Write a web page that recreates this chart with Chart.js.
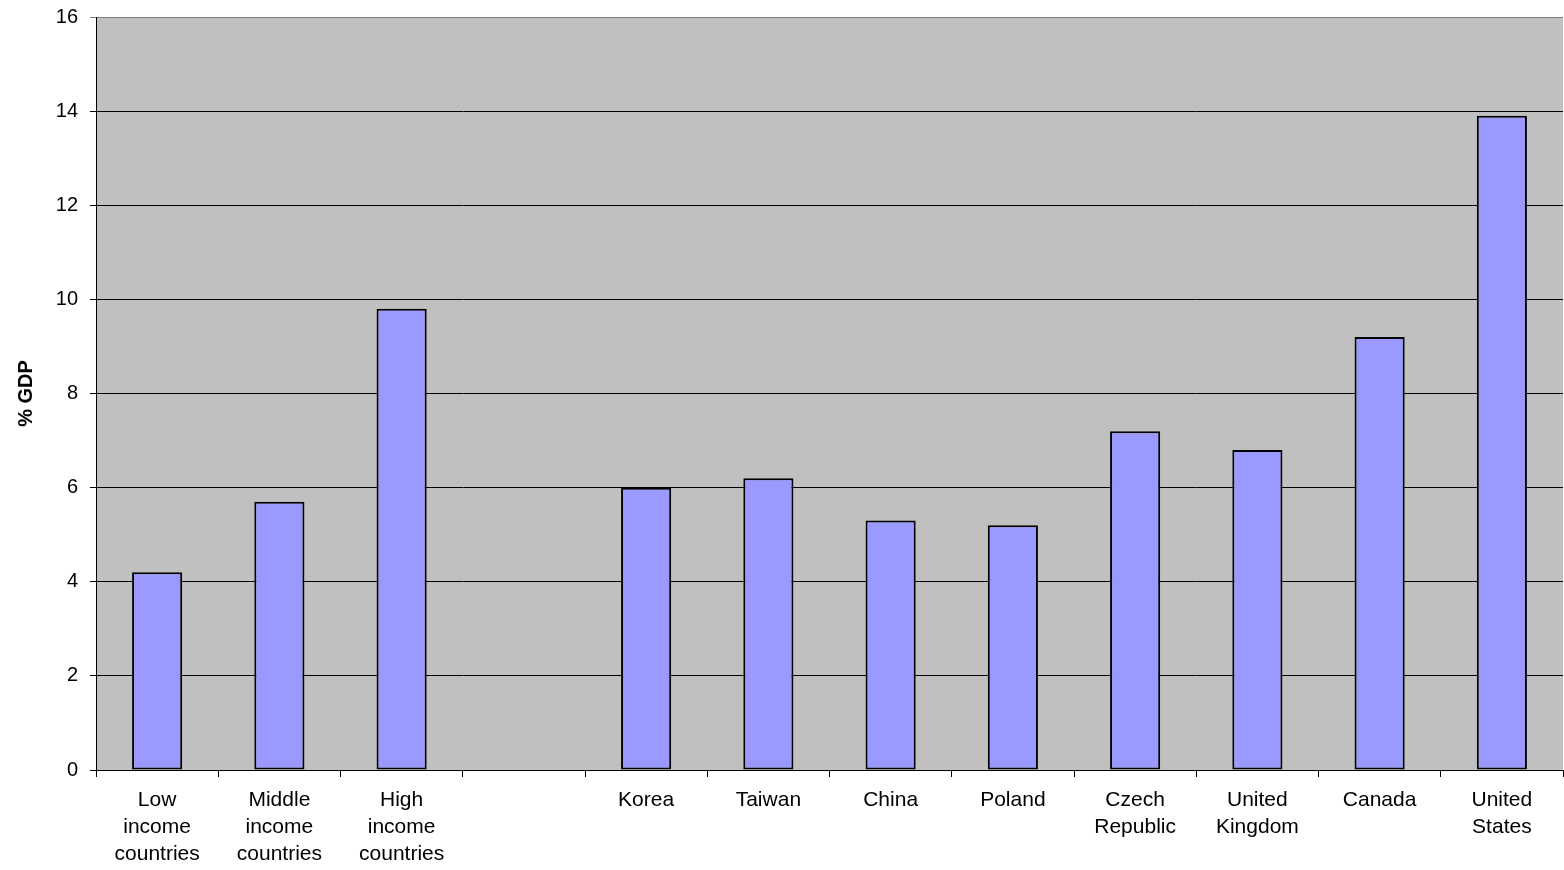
<!DOCTYPE html>
<html>
<head>
<meta charset="utf-8">
<script src="https://cdn.jsdelivr.net/npm/chart.js@4/dist/chart.umd.min.js"></script>
<style>
  html, body { margin: 0; padding: 0; background: #fff; }
  #wrap { width: 1564px; height: 870px; }
</style>
</head>
<body>
<div id="wrap"><canvas id="gdpChart" width="1564" height="870"></canvas></div>
<script>
const categories = [
  ["Low", "income", "countries"],
  ["Middle", "income", "countries"],
  ["High", "income", "countries"],
  "",
  "Korea",
  "Taiwan",
  "China",
  "Poland",
  ["Czech", "Republic"],
  ["United", "Kingdom"],
  "Canada",
  ["United", "States"],
];
const spending = [4.2, 5.7, 9.8, null, 6.0, 6.2, 5.3, 5.2, 7.2, 6.8, 9.2, 13.9];
const yTicks = [0, 2, 4, 6, 8, 10, 12, 14, 16];

const plotBackground = {
  id: "plotBackground",
  beforeDraw(chart) {
    const { ctx, chartArea } = chart;
    ctx.save();
    ctx.fillStyle = "#c0c0c0";
    ctx.fillRect(chartArea.left, chartArea.top, chartArea.right - chartArea.left, chartArea.bottom - chartArea.top);
    ctx.restore();
  },
};

const ctx = document.getElementById("gdpChart");

new Chart(ctx, {
  type: "bar",
  data: {
    labels: categories,
    datasets: [
      {
        data: spending,
        backgroundColor: "#9999ff",
        borderColor: "#000000",
        borderWidth: 2,
        borderSkipped: false,
        barPercentage: 0.41,
        categoryPercentage: 1,
      },
    ],
  },
  options: {
    responsive: false,
    animation: false,
    layout: { padding: { top: 17, right: 1, left: 0, bottom: 0 } },
    plugins: {
      legend: { display: false },
      tooltip: { enabled: false },
    },
    scales: {
      x: {
        offset: true,
        afterFit(scale) {
          scale.height = 100;
          scale.paddingLeft = 0;
          scale.paddingRight = 0;
        },
        grid: {
          offset: true,
          drawOnChartArea: false,
          color: "#000",
          tickLength: 7,
        },
        border: { color: "#000", width: 1 },
        ticks: {
          color: "#000",
          font: { family: "Liberation Sans, Arial", size: 21, lineHeight: 1.28 },
          maxRotation: 0,
          autoSkip: false,
          padding: 10,
        },
      },
      y: {
        min: 0,
        max: 16,
        afterFit(scale) {
          scale.width = 96;
          scale.paddingTop = 0;
          scale.paddingBottom = 0;
        },
        afterBuildTicks(scale) { scale.ticks = yTicks.map((v) => ({ value: v })); },
        grid: {
          color: (c) => (c.tick && c.tick.value === 16 ? "#808080" : "#000"),
          lineWidth: 1,
          tickLength: 6,
        },
        border: { color: "#000", width: 1 },
        ticks: {
          color: "#000",
          font: { family: "Liberation Sans, Arial", size: 20 },
          padding: 12,
        },
        title: {
          display: true,
          text: "% GDP",
          color: "#000",
          font: { family: "Liberation Sans, Arial", size: 20, weight: "bold" },
          padding: { top: 14, bottom: 0 },
        },
      },
    },
  },
  plugins: [plotBackground],
});
</script>
</body>
</html>
